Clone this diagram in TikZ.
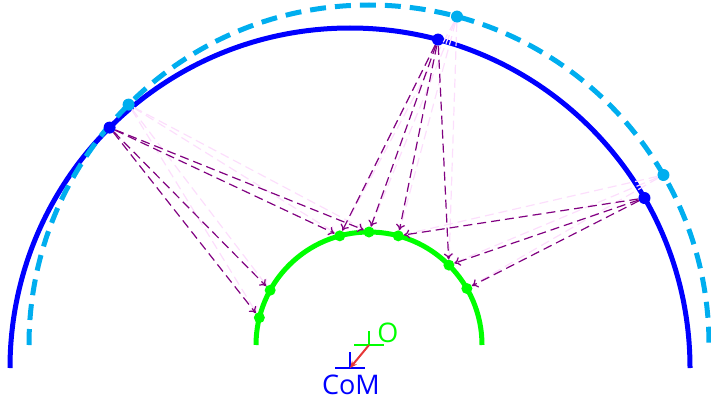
\documentclass[tikz,border=0pt]{standalone}
\usepackage{fontspec}
\setmainfont{Open Sans}
\usetikzlibrary{calc,arrows.meta}
\definecolor{lblue}{RGB}{0,174,239}
\definecolor{pblue}{RGB}{0,0,255}
\definecolor{pgreen}{RGB}{0,255,0}
\definecolor{dpurple}{RGB}{128,0,128}
\definecolor{lpink}{RGB}{252,222,252}
\definecolor{ared}{RGB}{230,55,55}
\begin{document}
\begin{tikzpicture}[x=1pt,y=1pt,
  bdot/.style={circle,fill=pblue,inner sep=0,minimum size=12},
  ldot/.style={circle,fill=lblue,inner sep=0,minimum size=12},
  gdot/.style={circle,fill=pgreen,inner sep=0,minimum size=11},
  force/.style={dpurple,line width=1.2,dash pattern=on 9 off 5,-{To[length=6,width=9]}},
  ghost/.style={lpink,line width=1.2,dash pattern=on 9 off 5,-{To[length=6,width=9]}},
  lbl/.style={font=\fontsize{27}{30}\selectfont,inner sep=0}]
\useasboundingbox (0,0) rectangle (711,400);
\coordinate (C) at (350,32);
\coordinate (O) at (369,55);
% circles
\draw[pblue,line width=5] ($(C)+(340,0)$) arc[start angle=0,end angle=180,radius=340];
\draw[lblue,line width=5,dash pattern=on 16 off 9] ($(O)+(-340,0)$) arc[start angle=180,end angle=0,radius=340];
\draw[pgreen,line width=5] ($(O)+(113,0)$) arc[start angle=0,end angle=180,radius=113];
% dots
\node[bdot] (b1) at ($(C)+(135:340)$) {};
\node[bdot] (b2) at ($(C)+(75:340)$) {};
\node[bdot] (b3) at ($(C)+(30:340)$) {};
\node[ldot] (l1) at ($(O)+(135:340)$) {};
\node[ldot] (l2) at ($(O)+(75:340)$) {};
\node[ldot] (l3) at ($(O)+(30:340)$) {};
\node[gdot] (g1) at ($(O)+(166:113)$) {};
\node[gdot] (g2) at ($(O)+(151:113)$) {};
\node[gdot] (g3) at ($(O)+(105:113)$) {};
\node[gdot] (g4) at ($(O)+(90:113)$) {};
\node[gdot] (g5) at ($(O)+(75:113)$) {};
\node[gdot] (g6) at ($(O)+(45:113)$) {};
\node[gdot] (g7) at ($(O)+(30:113)$) {};
% ghost lines
\foreach \g in {g1,g2,g3,g4} \draw[ghost] (l1) -- (\g);
\foreach \g in {g3,g4,g5,g6} \draw[ghost] (l2) -- (\g);
\foreach \g in {g5,g6,g7} \draw[ghost] (l3) -- (\g);
% forces
\foreach \g in {g1,g2,g3,g4} \draw[force] (b1) -- (\g);
\foreach \g in {g3,g4,g5,g6} \draw[force] (b2) -- (\g);
\foreach \g in {g5,g6,g7} \draw[force] (b3) -- (\g);
% frames
\draw[pblue,line width=1.5] ($(C)+(-15,0)$) -- ($(C)+(15,0)$);
\draw[pblue,line width=1.5] (C) -- ($(C)+(0,16)$);
\draw[pgreen,line width=1.5] ($(O)+(-15,0)$) -- ($(O)+(15,0)$);
\draw[pgreen,line width=1.5] (O) -- ($(O)+(0,14)$);
\draw[ared,line width=2,-{Stealth[length=7,width=6]}] (O) -- (C);
\node[lbl,text=pblue] (com) at (351,15) {CoM};
\node[lbl,text=pgreen] (olbl) at (388,67) {O};
\end{tikzpicture}
\end{document}
